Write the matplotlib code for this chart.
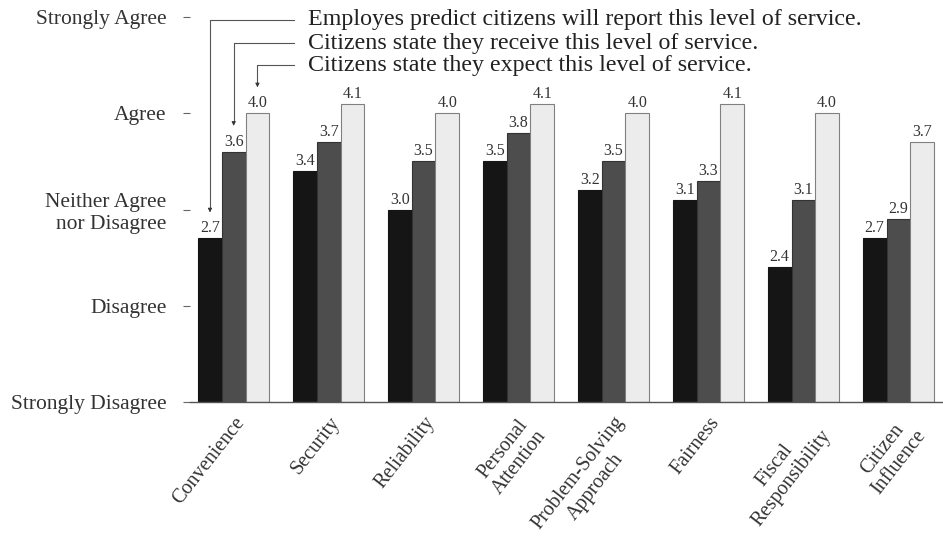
import matplotlib
matplotlib.use("Agg")
import matplotlib.pyplot as plt
import numpy as np

# ── Data ──────────────────────────────────────────────────────────────────────
categories = ["Convenience", "Security", "Reliability", "Personal\nAttention",
              "Problem-Solving\nApproach", "Fairness", "Fiscal\nResponsibility",
              "Citizen\nInfluence"]
employee_pred = [2.7, 3.4, 3.0, 3.5, 3.2, 3.1, 2.4, 2.7]
citizen_recv  = [3.6, 3.7, 3.5, 3.8, 3.5, 3.3, 3.1, 2.9]
citizen_exp   = [4.0, 4.1, 4.0, 4.1, 4.0, 4.1, 4.0, 3.7]

scale_vals   = [1, 2, 3, 4, 5]
scale_labels = ["Strongly Disagree", "Disagree", "Neither Agree\nnor Disagree",
                "Agree", "Strongly Agree"]
series_labels = ["Employes predict citizens will report this level of service.",
                 "Citizens state they receive this level of service.",
                 "Citizens state they expect this level of service."]

plt.rcParams['font.family'] = ['Liberation Serif', 'DejaVu Serif']

fig = plt.figure(figsize=(9.43, 5.49), dpi=100)
ax = fig.add_axes([0.2015, 0.2678, 0.7985, 0.7011])

x = np.arange(len(categories))
w = 0.25
base = 1
colors = ["#151515", "#4d4d4d", "#ececec"]
edges = ["#151515", "#333333", "#808080"]
series = [employee_pred, citizen_recv, citizen_exp]
offsets = [-w, 0, w]

for vals, off, c, ec in zip(series, offsets, colors, edges):
    heights = [v - base for v in vals]
    ax.bar(x + off, heights, w, bottom=base, color=c, edgecolor=ec, linewidth=0.8)
    for xi, v in zip(x + off, vals):
        ax.text(xi, v + 0.02, f"{v:.1f}", ha="center", va="bottom",
                fontsize=11.5, color="#333333")

# ── Leader-line legend ────────────────────────────────────────────────────────
text_y = [4.97, 4.73, 4.50]
line_end_x = 0.63
for i, (lab, off, vals) in enumerate(zip(series_labels, offsets, series)):
    bx = x[0] + off
    ty = text_y[i]
    tip = vals[0] + 0.27
    ax.plot([line_end_x, bx, bx], [ty, ty, tip + 0.04], color="#555555", lw=0.8,
            clip_on=False)
    ax.annotate("", xy=(bx, tip), xytext=(bx, tip + 0.05),
                arrowprops=dict(arrowstyle="-|>", color="#333333", lw=0.6,
                                mutation_scale=6), annotation_clip=False)
    ax.text(line_end_x + 0.15, ty, lab, ha="left", va="center", fontsize=17.3,
            color="#222222", clip_on=False)

# ── Axes styling ──────────────────────────────────────────────────────────────
ax.set_xlim(-0.46, 7.47)
ax.set_ylim(1, 5)
ax.set_yticks(scale_vals)
ax.set_yticklabels(scale_labels, fontsize=15.5, color="#333333")
ax.set_xticks(x)
ax.set_xticklabels(categories, rotation=52, ha="right", rotation_mode="anchor",
                   fontsize=14.5, color="#333333", multialignment="center")
ax.tick_params(axis="y", length=5, width=0.8, color="#666666", pad=12)
ax.tick_params(axis="x", length=0, pad=8)
for s in ["top", "right", "left"]:
    ax.spines[s].set_visible(False)
ax.spines["bottom"].set_color("#555555")
ax.spines["bottom"].set_linewidth(1.0)

plt.savefig("out.png", dpi=100)
